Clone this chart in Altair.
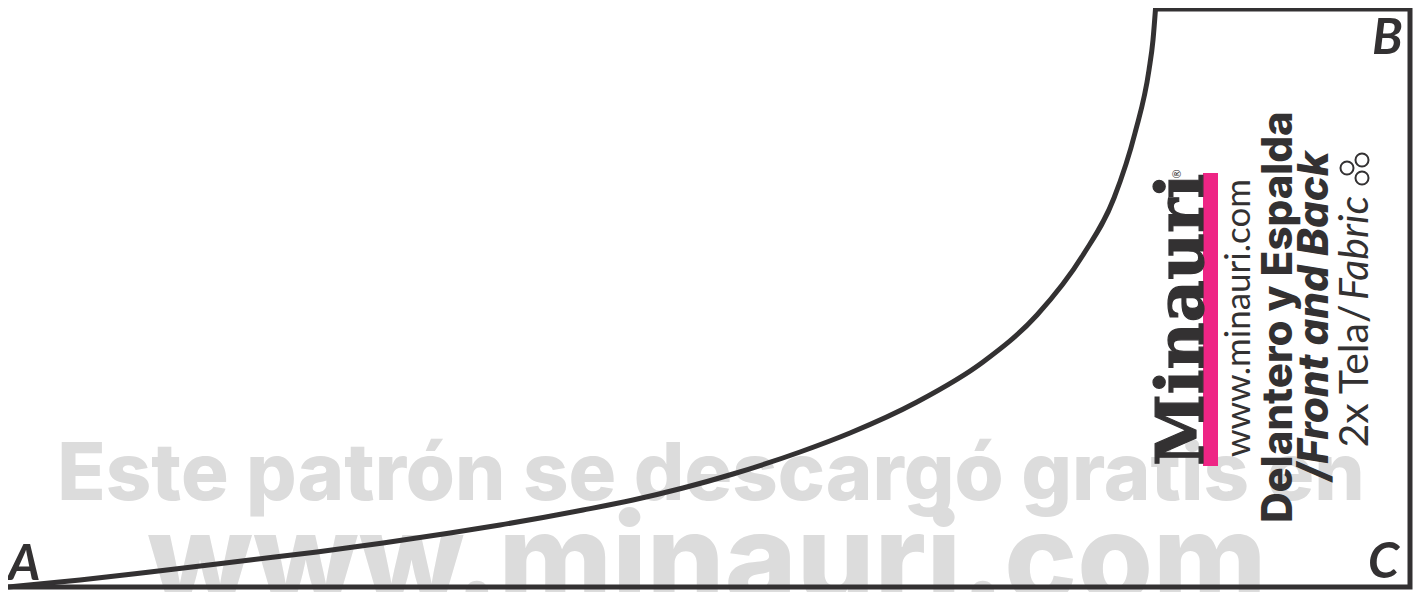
import altair as alt
import pandas as pd

DARK = "#333132"
GREY = "#dcdcdc"
PINK = "#ee2585"

curve_x = [8, 80, 150, 250, 317, 383, 450, 500, 583, 633, 683, 733, 800, 850, 917, 983, 1037,
           1083, 1114, 1135, 1149, 1153, 1155.5]
curve_y = [587, 580, 572, 560, 552, 543, 533, 525, 510, 500, 488, 474, 452, 433, 402, 362, 315,
           255, 198, 133, 70, 40, 9]
frame_x = [1155.5, 1410, 1410, 8]
frame_y = [9, 9, 587, 587]
bar_x = [1203]
bar_x2 = [1218]
bar_y = [173]
bar_y2 = [466]
ring_x = [1347, 1362, 1362]
ring_y = [168, 160, 178]

# text, x, y, size, weight, style, font, colour, angle, align, outline
labels = [
    ("Este patrón se descargó gratis en", 711, 500, 79.5, 800, "normal", "Inter", GREY, 0, "center", 0),
    ("www.minauri.com", 707, 602, 122.5, 800, "normal", "Inter", GREY, 0, "center", 0),
    ("A", 8, 580, 50, 700, "italic", "Lato", DARK, 0, "left", 0),
    ("B", 1372, 54, 50, 700, "italic", "Lato", DARK, 0, "left", 0),
    ("C", 1368, 578, 50, 700, "italic", "Lato", DARK, 0, "left", 0),
    ("Minauri", 1203, 320, 65, 900, "normal", "DejaVu Serif", DARK, 270, "center", 1.2),
    ("®", 1181, 174, 11, 400, "normal", "Lato", DARK, 270, "center", 0),
    ("www.minauri.com", 1250, 318, 35, 400, "normal", "Lato", DARK, 270, "center", 0),
    ("Delantero y Espalda", 1292, 317, 42, 800, "normal", "Inter", DARK, 270, "center", 0),
    ("/Front and Back", 1328, 316, 42, 800, "italic", "Inter", DARK, 270, "center", 0),
    ("2x Tela/", 1368, 376, 41, 400, "normal", "Lato", DARK, 270, "center", 0),
    ("Fabric", 1368, 248, 41, 400, "italic", "Lato", DARK, 270, "center", 0),
]

X = alt.Scale(domain=[8, 1416], nice=False, zero=False)
Y = alt.Scale(domain=[592, 8], nice=False, zero=False)


def xy(**kw):
    return dict(
        x=alt.X("x:Q", scale=X, axis=None),
        y=alt.Y("y:Q", scale=Y, axis=None),
        **kw,
    )


def text_layer(t, x, y, size, weight, style, font, colour, angle, align, outline):
    extra = {"stroke": colour, "strokeWidth": outline} if outline else {}
    return (
        alt.Chart(pd.DataFrame({"x": [x], "y": [y], "t": [t]}))
        .mark_text(fontSize=size, fontWeight=weight, fontStyle=style, font=font,
                   color=colour, angle=angle, align=align, baseline="alphabetic", clip=True, **extra)
        .encode(**xy(text="t:N"))
    )


grey_text = [text_layer(*l) for l in labels if l[7] == GREY]
dark_text = [text_layer(*l) for l in labels if l[7] != GREY]

bar = alt.Chart(pd.DataFrame({"x": bar_x, "x2": bar_x2, "y": bar_y, "y2": bar_y2})).mark_rect(color=PINK).encode(
    **xy(x2="x2:Q", y2="y2:Q")
)
curve = alt.Chart(pd.DataFrame({"x": curve_x, "y": curve_y, "o": range(len(curve_x))})).mark_line(
    color=DARK, strokeWidth=5, interpolate="monotone", strokeCap="butt").encode(**xy(order="o:Q"))
frame = alt.Chart(pd.DataFrame({"x": frame_x, "y": frame_y, "o": range(len(frame_x))})).mark_line(
    color=DARK, strokeWidth=5, strokeJoin="miter", strokeCap="square").encode(**xy(order="o:Q"))
rings = alt.Chart(pd.DataFrame({"x": ring_x, "y": ring_y})).mark_point(
    shape="circle", filled=False, color=DARK, size=170, strokeWidth=2, opacity=1).encode(**xy())

chart = alt.layer(*grey_text, bar, *dark_text, rings, curve, frame).properties(
    width=1408, height=584, padding=0, background="white",
    autosize=alt.AutoSizeParams(type="none"),
).configure_view(stroke=None)

chart.save("out.html", embed_options={"renderer": "svg", "actions": False})
